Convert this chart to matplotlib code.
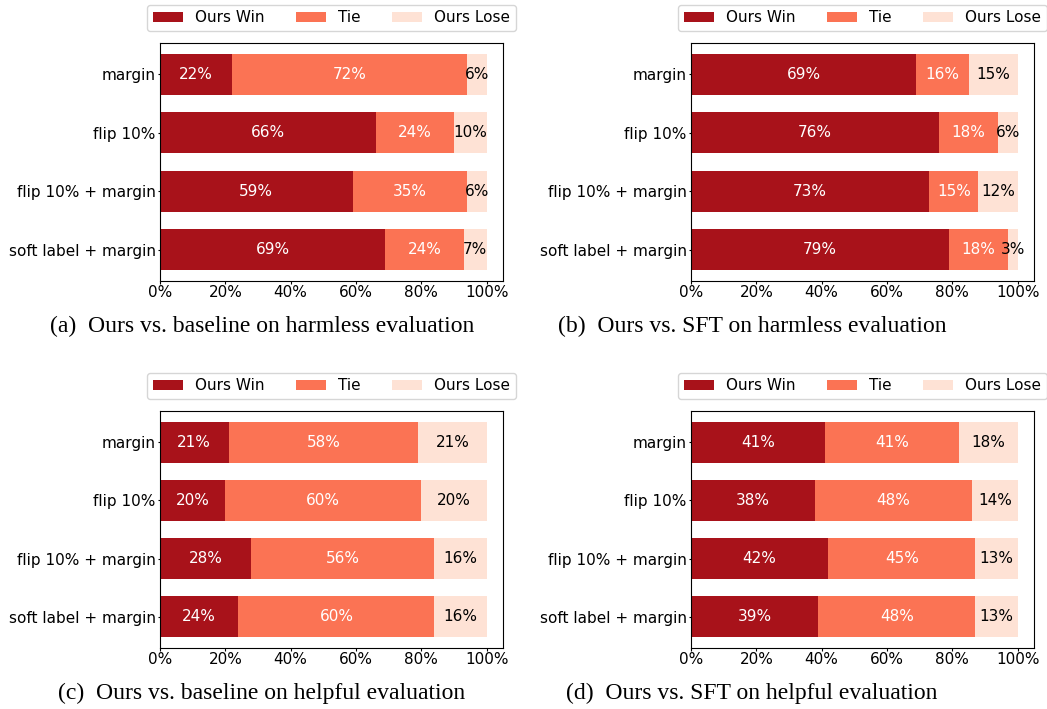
import matplotlib
matplotlib.use("Agg")
import matplotlib.pyplot as plt
import numpy as np
from matplotlib.ticker import FuncFormatter

# row labels, top to bottom
methods = ["margin", "flip 10%", "flip 10% + margin", "soft label + margin"]
outcomes = ["Ours Win", "Tie", "Ours Lose"]

# (win, tie, lose) per method
harmless_vs_base = [[22, 72, 6], [66, 24, 10], [59, 35, 6], [69, 24, 7]]
harmless_vs_sft = [[69, 16, 15], [76, 18, 6], [73, 15, 12], [79, 18, 3]]
helpful_vs_base = [[21, 58, 21], [20, 60, 20], [28, 56, 16], [24, 60, 16]]
helpful_vs_sft = [[41, 41, 18], [38, 48, 14], [42, 45, 13], [39, 48, 13]]

captions = [
    "(a)  Ours vs. baseline on harmless evaluation",
    "(b)  Ours vs. SFT on harmless evaluation",
    "(c)  Ours vs. baseline on helpful evaluation",
    "(d)  Ours vs. SFT on helpful evaluation",
]

COLORS = ["#a8121a", "#fb7354", "#fee2d5"]
TEXT_COLORS = ["white", "white", "black"]

W, H = 1047, 709


def px_axes(fig, left, right, top, bottom):
    return fig.add_axes([left / W, 1 - bottom / H, (right - left) / W, (bottom - top) / H])


def draw_panel(ax, data):
    data = np.array(data, dtype=float)
    y = np.arange(len(methods))
    left = np.zeros(len(methods))
    for k, name in enumerate(outcomes):
        bars = ax.barh(y, data[:, k], left=left, height=0.7,
                       color=COLORS[k], label=name)
        for b, v in zip(bars, data[:, k]):
            ax.text(b.get_x() + b.get_width() / 2, b.get_y() + b.get_height() / 2,
                    f"{int(v)}%", ha="center", va="center",
                    color=TEXT_COLORS[k], fontsize=11)
        left += data[:, k]
    ax.set_yticks(y)
    ax.set_yticklabels(methods, fontsize=11)
    ax.invert_yaxis()
    ax.set_xlim(0, 105)
    ax.set_xticks(np.arange(0, 101, 20))
    ax.xaxis.set_major_formatter(FuncFormatter(lambda v, _: f"{int(v)}%"))
    ax.tick_params(labelsize=11, length=1.8, pad=1.2)
    ax.legend(loc="lower center", bbox_to_anchor=(0.5, 1.02), ncol=3,
              fontsize=11, frameon=True, borderpad=0.35)


fig = plt.figure(figsize=(W / 100, H / 100), dpi=100)

panels = [
    (harmless_vs_base, (160, 503, 43, 281), 262, 326),
    (harmless_vs_sft, (691, 1034, 43, 281), 752, 326),
    (helpful_vs_base, (160, 503, 411, 648), 262, 693),
    (helpful_vs_sft, (691, 1034, 411, 648), 752, 693),
]

for (data, box, cx, cy), cap in zip(panels, captions):
    ax = px_axes(fig, *box)
    draw_panel(ax, data)
    fig.text(cx / W, 1 - cy / H, cap, ha="center", va="center",
             family="Liberation Serif", fontsize=17)

fig.savefig("out.png", dpi=100)
